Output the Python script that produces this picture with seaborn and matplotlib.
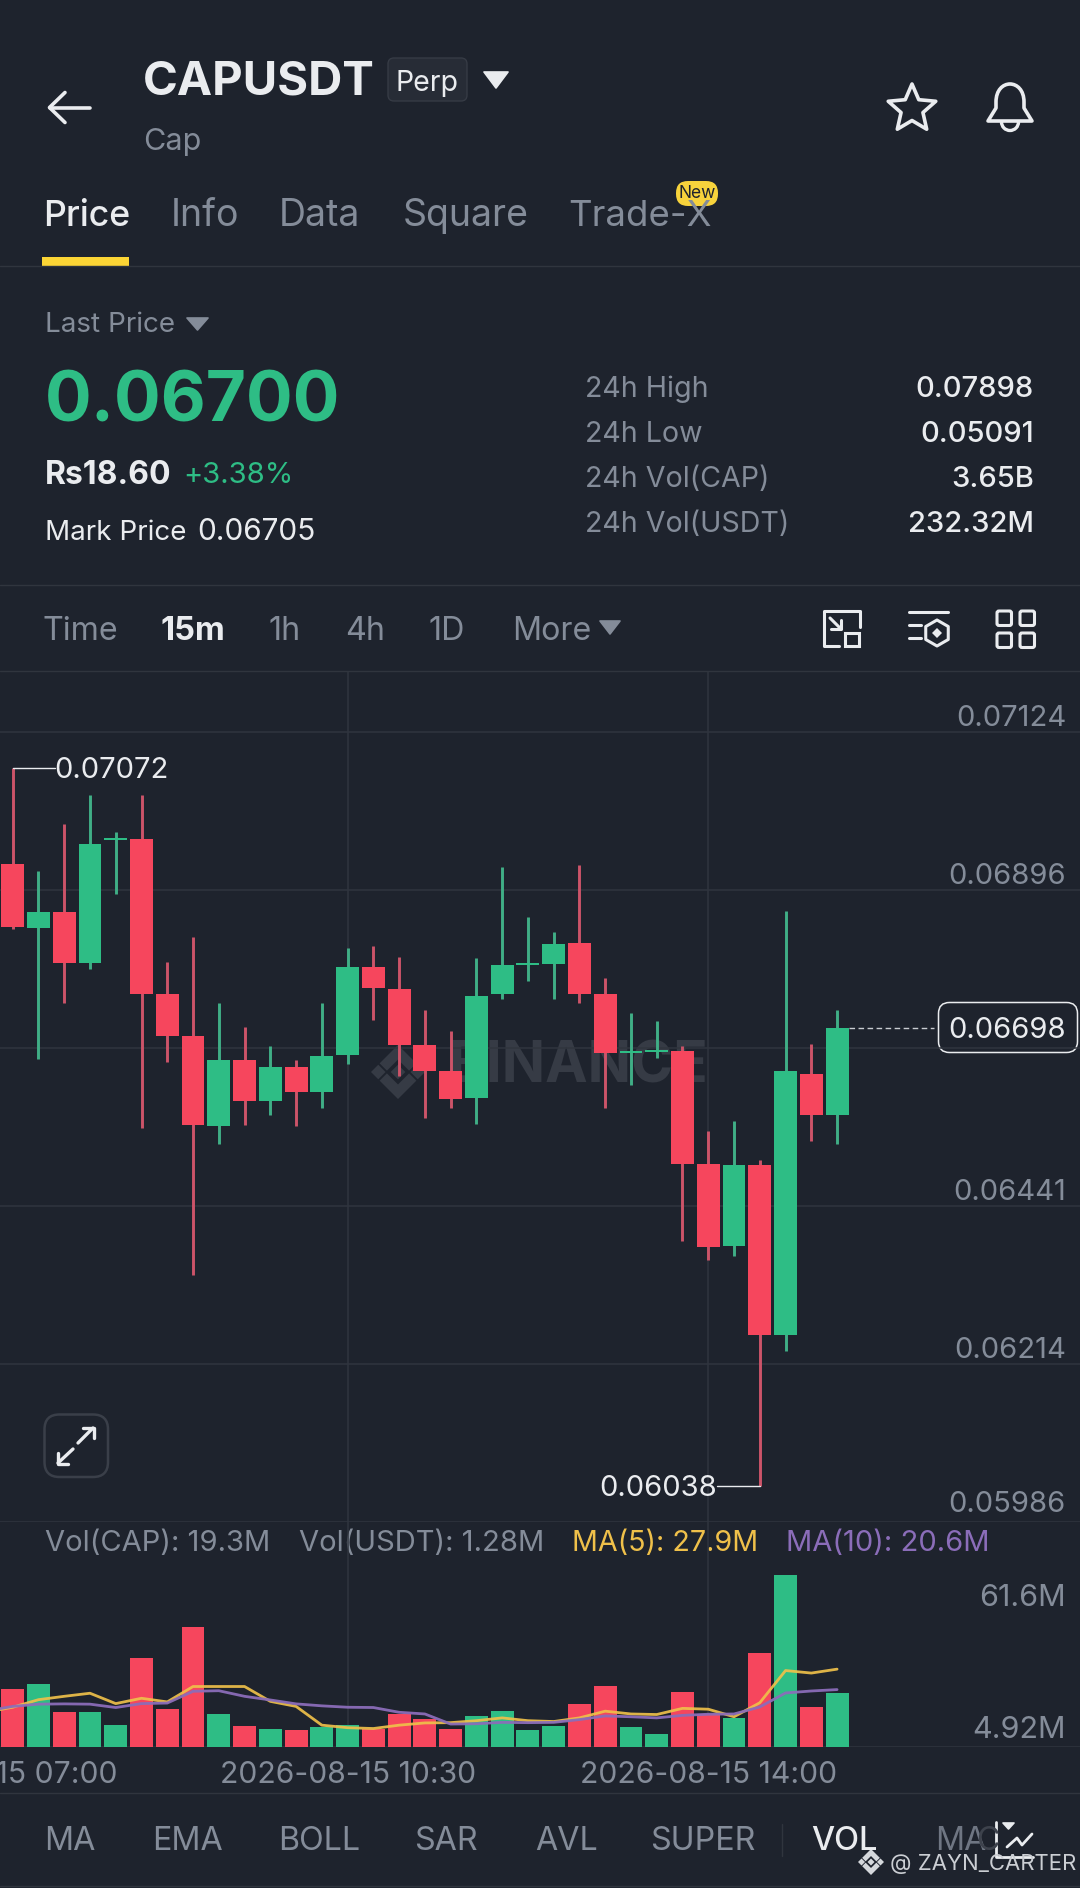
# Binance CAPUSDT perp screen: 15m candles with volume panel
import numpy as np
import pandas as pd
import matplotlib
matplotlib.use("Agg")
import matplotlib.pyplot as plt
import seaborn as sns
from matplotlib.patches import Polygon, FancyBboxPatch, Arc, PathPatch, Rectangle
from matplotlib.path import Path

# ── Data ─────────────────────────────────────────────────────────────────────
opens = [0.06934, 0.06842, 0.06864, 0.06791, 0.06968, 0.06970, 0.06746, 0.06686, 0.06557, 0.06652, 0.06592,
         0.06642, 0.06605, 0.06658, 0.06785, 0.06754, 0.06673, 0.06635, 0.06597, 0.06746, 0.06789,
         0.06790, 0.06820, 0.06746, 0.06662, 0.06663, 0.06664, 0.06502, 0.06384, 0.06500, 0.06255, 0.06632, 0.06572]
closes = [0.06843, 0.06865, 0.06791, 0.06962, 0.06971, 0.06746, 0.06686, 0.06558, 0.06651, 0.06592, 0.06642,
          0.06605, 0.06657, 0.06786, 0.06755, 0.06673, 0.06636, 0.06596, 0.06744, 0.06789, 0.06791,
          0.06819, 0.06746, 0.06662, 0.06664, 0.06666, 0.06502, 0.06382, 0.06500, 0.06255, 0.06636, 0.06572, 0.06698]
highs = [0.07072, 0.06924, 0.06992, 0.07033, 0.06980, 0.07033, 0.06792, 0.06828, 0.06733, 0.06699, 0.06671,
         0.06652, 0.06734, 0.06813, 0.06815, 0.06800, 0.06724, 0.06693, 0.06798, 0.06929, 0.06857,
         0.06836, 0.06932, 0.06769, 0.06719, 0.06707, 0.06672, 0.06549, 0.06563, 0.06507, 0.06866, 0.06675, 0.06724]
lows = [0.06840, 0.06653, 0.06734, 0.06783, 0.06890, 0.06554, 0.06649, 0.06342, 0.06531, 0.06558, 0.06572,
        0.06556, 0.06583, 0.06646, 0.06709, 0.06629, 0.06568, 0.06583, 0.06560, 0.06740, 0.06765,
        0.06739, 0.06734, 0.06582, 0.06616, 0.06654, 0.06391, 0.06364, 0.06369, 0.06038, 0.06233, 0.06535, 0.06531]

volumes = [20.7, 22.7, 12.5, 12.5, 7.9, 32.0, 13.6, 43.0, 11.8, 7.7, 6.4, 6.0, 7.3, 8.1, 6.7, 11.8, 10.1,
           6.7, 11.2, 13.0, 6.0, 7.7, 15.6, 21.8, 7.4, 4.92, 19.6, 12.0, 10.5, 33.7, 61.6, 14.5, 19.3]
# the two averages start one candle left of the screen
ma5 = [12.6, 14.3, 17.0, 18.2, 19.3, 15.6, 17.5, 16.2, 21.7, 21.7, 21.7, 16.4, 14.6, 7.9, 7.0, 6.7, 7.9, 8.7,
       8.8, 9.5, 10.5, 9.5, 9.2, 10.5, 12.9, 11.9, 11.7, 13.9, 13.6, 10.9, 15.9, 27.4, 26.5, 27.9]
ma10 = [13.0, 14.6, 15.4, 15.5, 15.4, 14.2, 15.6, 15.8, 20.0, 20.2, 18.2, 16.9, 15.5, 14.8, 14.3, 14.2, 12.5, 11.9,
        8.3, 8.4, 8.9, 8.8, 8.9, 9.9, 11.2, 10.9, 10.5, 11.4, 11.8, 11.9, 14.4, 19.4, 20.1, 20.6]

price_grid = [0.07124, 0.06896, 0.06669, 0.06441, 0.06214, 0.05986]
price_labels = ["0.07124", "0.06896", "", "0.06441", "0.06214", "0.05986"]
time_ticks = [-1, 13, 27]
time_labels = ["2026-08-15 07:00", "2026-08-15 10:30", "2026-08-15 14:00"]

tabs = ["Price", "Info", "Data", "Square", "Trade-X"]
stats_names = ["24h High", "24h Low", "24h Vol(CAP)", "24h Vol(USDT)"]
stats_values = ["0.07898", "0.05091", "3.65B", "232.32M"]
intervals = ["Time", "15m", "1h", "4h", "1D", "More"]
indicators = ["MA", "EMA", "BOLL", "SAR", "AVL", "SUPER"]

# ── Colours ──────────────────────────────────────────────────────────────────
BG = "#1E232D"
GRID = "#30353E"
GRAY = "#848C99"
WHITE = "#EAECEF"
UP = "#2EBD85"
DOWN = "#F6465D"
UP_WICK = "#40AE86"
DOWN_WICK = "#CC5469"
YELLOW = "#EFC04A"
PURPLE = "#8B6DB9"

sns.set_theme(style="dark", rc={"axes.facecolor": "none", "figure.facecolor": BG})
plt.rcParams["font.family"] = ["Inter", "DejaVu Sans"]

fig = plt.figure(figsize=(10.8, 18.88), dpi=100)

# background axes works in screen pixels, for all the app chrome
ui = fig.add_axes([0, 0, 1, 1], zorder=0)
ui.set_xlim(0, 1080)
ui.set_ylim(1888, 0)
ui.axis("off")


def txt(x, y, s, size, color=GRAY, ha="left", weight="normal", **kw):
    # matplotlib centres on the line box, nudge down to centre on the glyphs
    return ui.text(x, y + 3.5, s, fontsize=size, color=color, ha=ha, va="center", weight=weight, **kw)


def stroke(xs, ys, color=WHITE, lw=2.4, **kw):
    ui.plot(xs, ys, color=color, lw=lw, solid_capstyle="round", solid_joinstyle="round", **kw)


def tri(x0, x1, y0, y1, color):
    ui.add_patch(Polygon([(x0, y0), (x1, y0), ((x0 + x1) / 2, y1)], closed=True, fc=color, ec=color,
                         lw=1.2, joinstyle="round"))


def rbox(x0, y0, x1, y1, r, fc="none", ec=WHITE, lw=2.2, **kw):
    ui.add_patch(FancyBboxPatch((x0 + r, y0 + r), x1 - x0 - 2 * r, y1 - y0 - 2 * r,
                                boxstyle=f"round,pad={r},rounding_size={r}", fc=fc, ec=ec, lw=lw, **kw))


def binance_logo(cx, cy, s, color, **kw):
    # five piece diamond mark
    pieces = [
        [(0, -0.27), (0.27, 0), (0, 0.27), (-0.27, 0)],
        [(-1, 0), (-0.73, -0.27), (-0.46, 0), (-0.73, 0.27)],
        [(1, 0), (0.73, -0.27), (0.46, 0), (0.73, 0.27)],
        [(0, -1), (0.68, -0.32), (0.41, -0.05), (0, -0.46), (-0.41, -0.05), (-0.68, -0.32)],
        [(0, 1), (0.68, 0.32), (0.41, 0.05), (0, 0.46), (-0.41, 0.05), (-0.68, 0.32)],
    ]
    for p in pieces:
        ui.add_patch(Polygon([(cx + a * s, cy + b * s) for a, b in p], closed=True, fc=color, ec="none", **kw))


# ── Header ───────────────────────────────────────────────────────────────────
stroke([50, 90], [107.5, 107.5], lw=2.6)
stroke([65, 49.5, 65], [92.5, 107.5, 122.5], lw=2.6)
txt(143, 79, "CAPUSDT", 34, WHITE, weight="bold")
rbox(388, 58, 467, 101, 6, fc="#272C36", ec="#363B45", lw=1.0)
txt(427.5, 80, "Perp", 20.5, WHITE, ha="center")
tri(484, 508, 72, 88, WHITE)
txt(143, 139, "Cap", 22, GRAY)

# star icon
ang = np.pi / 2 + np.arange(10) * np.pi / 5
rad = np.where(np.arange(10) % 2 == 0, 25, 11.5)
ui.add_patch(Polygon(np.c_[912 + rad * np.cos(ang), 109 - rad * np.sin(ang)], closed=True, fc="none", ec=WHITE,
                     lw=2.6, joinstyle="round"))
# bell icon
bell = Path([(988, 121), (996, 108), (996, 102), (996, 90), (1003, 84), (1010, 84), (1017, 84), (1024, 90), (1024, 102),
             (1024, 108), (1032, 121), (988, 121)],
            [Path.MOVETO, Path.LINETO, Path.LINETO, Path.CURVE4, Path.CURVE4, Path.CURVE4, Path.CURVE4, Path.CURVE4,
             Path.CURVE4, Path.LINETO, Path.LINETO, Path.CLOSEPOLY])
ui.add_patch(PathPatch(bell, fc="none", ec=WHITE, lw=2.6, joinstyle="round"))
ui.add_patch(Arc((1010, 122), 17, 17, theta1=0, theta2=180, ec=WHITE, lw=2.4))

# ── Tabs ─────────────────────────────────────────────────────────────────────
for name, x in zip(tabs, [43, 171, 279, 403, 568]):
    is_active = name == "Price"
    txt(x, 213, name, 25.7 if is_active else (26.3 if name == "Trade-X" else 27), WHITE if is_active else GRAY,
        weight="medium" if is_active else "normal")
rbox(676, 181, 718, 206, 12, fc="#F7D33C", ec="none", lw=0)
txt(697, 190.5, "New", 12.5, "#1E232D", ha="center")
ui.add_patch(Rectangle((42, 257), 87, 9, fc="#FCD535", ec="none"))
ui.axhline(266, color=GRID, lw=1.0)

# ── Ticker block ─────────────────────────────────────────────────────────────
txt(45, 322, "Last Price", 20, GRAY)
tri(187, 208, 318, 330, GRAY)
txt(45, 400, "0.06700", 50, UP, weight="bold")
txt(45, 472, "Rs18.60", 23, WHITE, weight="bold")
txt(183, 472, "+3.38%", 21, UP)
txt(45, 529, "Mark Price", 20, WHITE)
txt(197, 529, "0.06705", 21.5, WHITE)
for name, val, y in zip(stats_names, stats_values, [386, 431, 476, 521]):
    txt(585, y, name, 20.6, GRAY)
    txt(1034, y, val, 21, WHITE, ha="right", weight="medium")
ui.axhline(585, color=GRID, lw=1.0)

# ── Interval row ─────────────────────────────────────────────────────────────
for name, x in zip(intervals, [42, 160, 268, 345, 428, 512]):
    txt(x, 628, name, 23.5 if name == "15m" else 23.2, WHITE if name == "15m" else GRAY,
        weight="bold" if name == "15m" else "normal")
tri(600, 620, 621, 634, GRAY)

# resize icon
stroke([860, 860, 824, 824, 839], [627, 611, 611, 646, 646], lw=2.2)
ui.add_patch(Rectangle((845, 633), 14, 13, fc="none", ec=WHITE, lw=2.2))
stroke([830, 841], [618, 629], lw=2.2)
stroke([831, 841, 841], [629, 629, 620], lw=2.2)
# settings icon
stroke([909, 948], [612, 612], lw=2.2)
stroke([909, 921], [625, 625], lw=2.2)
stroke([909, 921], [638, 638], lw=2.2)
hex_a = np.pi / 2 + np.arange(6) * np.pi / 3
ui.add_patch(Polygon(np.c_[937 + 13 * np.cos(hex_a), 633 + 13 * np.sin(hex_a)], closed=True, fc="none", ec=WHITE,
                     lw=2.2, joinstyle="round"))
ui.add_patch(Polygon([(937, 628), (942, 633), (937, 638), (932, 633)], closed=True, fc=WHITE, ec="none"))
# grid icon
for x0 in [997, 1020]:
    for y0 in [611, 633]:
        rbox(x0, y0, x0 + 14.5, y0 + 14.5, 2, lw=2.2)
ui.axhline(671, color=GRID, lw=1.0)

# ── Watermark (sits under the candles) ───────────────────────────────────────
binance_logo(398, 1072, 27, "#363B45")
txt(448, 1064, "BINANCE", 41, "#363B45", weight="bold")

# ── Price panel ──────────────────────────────────────────────────────────────
idx = np.arange(len(opens))
xlim = (-0.493, 41.43)
ax = fig.add_axes([0, 1 - 1522 / 1888, 1, 850 / 1888], zorder=1)
ax.set_xlim(*xlim)
ax.set_ylim(0.05986, 0.072104)
ax.set_yticks(price_grid)
ax.set_xticks(time_ticks[1:])
ax.set_yticklabels([])
ax.set_xticklabels([])
ax.tick_params(length=0)
ax.grid(True, color=GRID, lw=1.1)
ax.set_axisbelow(True)
sns.despine(ax=ax, left=True, bottom=True)

for i, o, c, h, l in zip(idx, opens, closes, highs, lows):
    is_up = c >= o
    ax.vlines(i, l, h, color=UP_WICK if is_up else DOWN_WICK, lw=2.1, zorder=2)
    ax.bar(i, max(abs(c - o), 0.00002), bottom=min(o, c), width=0.89, color=UP if is_up else DOWN, lw=0, zorder=3)

# axis labels float above their grid lines
for p, lab in zip(price_grid, price_labels):
    if lab:
        ax.annotate(lab, xy=(1066 / 1080, p), xycoords=ax.get_yaxis_transform(), xytext=(0, 17 if p < 0.06 else 13.5),
                    textcoords="offset pixels", ha="right", va="center", fontsize=21, color=GRAY)

# extreme price call-outs
hi_i = int(np.argmax(highs))
lo_i = int(np.argmin(lows))
ax.plot([hi_i, hi_i + 1.64], [highs[hi_i]] * 2, color=WHITE, lw=1.0, zorder=4)
ax.annotate(f"{highs[hi_i]:.5f}", xy=(hi_i + 1.64, highs[hi_i]), xytext=(-1, -2.5), textcoords="offset pixels",
            fontsize=21, color=WHITE, va="center", ha="left")
ax.plot([lo_i - 1.66, lo_i], [lows[lo_i]] * 2, color=WHITE, lw=1.0, zorder=4)
ax.annotate(f"{lows[lo_i]:.5f}", xy=(lo_i - 1.66, lows[lo_i]), xytext=(0, -2.5), textcoords="offset pixels",
            fontsize=21, color=WHITE, va="center", ha="right")

# last price tag
last = closes[-1]
ax.plot([idx[-1] + 0.45, 35.75], [last, last], color="#C9CCD1", lw=1.0, ls=(0, (4, 2.5)), zorder=2)
rbox(938.5, 1002.5, 1077.5, 1052.5, 11, fc=BG, ec=WHITE, lw=1.1, zorder=5)
ax.annotate(f"{last:.5f}", xy=(1066 / 1080, last), xycoords=ax.get_yaxis_transform(), xytext=(0, -2.5),
            textcoords="offset pixels", ha="right", va="center", fontsize=21, color=WHITE, zorder=6)

# expand button
rbox(44.5, 1414.5, 108, 1477, 15, ec="#3A3F49", lw=1.8)
stroke([78, 93], [1443, 1428], lw=2.4)
stroke([83, 93.5, 93.5], [1428, 1428, 1438], lw=2.4)
stroke([73, 58], [1449, 1463], lw=2.4)
stroke([58, 58, 68], [1453, 1463.5, 1463.5], lw=2.4)

# ── Volume panel ─────────────────────────────────────────────────────────────
txt(45, 1540, "Vol(CAP): 19.3M", 21, GRAY)
txt(299, 1540, "Vol(USDT): 1.28M", 21, GRAY)
txt(572, 1540, "MA(5): 27.9M", 20.7, YELLOW)
txt(786, 1540, "MA(10): 20.6M", 21, PURPLE)
txt(1066, 1595, "61.6M", 22, GRAY, ha="right")
txt(1066, 1727, "4.92M", 22, GRAY, ha="right")

vol_df = pd.DataFrame({"idx": idx, "vol": volumes,
                       "side": ["up" if c >= o else "down" for o, c in zip(opens, closes)]})
ma_idx = np.arange(-1, len(opens))
ma_df = pd.DataFrame({"idx": ma_idx, "ma5": ma5, "ma10": ma10})

vax = fig.add_axes([0, 1 - 1747.3 / 1888, 1, 225.3 / 1888], zorder=1)
sns.barplot(data=vol_df, x="idx", y="vol", hue="side", palette={"up": UP, "down": DOWN}, native_scale=True,
            dodge=False, width=0.89, saturation=1, legend=False, linewidth=0, ax=vax)
sns.lineplot(data=ma_df, x="idx", y="ma5", color=YELLOW, lw=2.0, alpha=0.92, ax=vax, zorder=4)
sns.lineplot(data=ma_df, x="idx", y="ma10", color=PURPLE, lw=2.0, alpha=0.95, ax=vax, zorder=5)
vax.set_xlim(*xlim)
vax.set_ylim(0, 80.43)
vax.set_xlabel("")
vax.set_ylabel("")
vax.set_xticks(time_ticks[1:])
vax.set_yticks([0])
vax.set_xticklabels([])
vax.set_yticklabels([])
vax.tick_params(length=0)
vax.grid(True, color=GRID, lw=1.1)
vax.set_axisbelow(True)
sns.despine(ax=vax, left=True, bottom=True)

for t, lab in zip(time_ticks, time_labels):
    vax.text(t, -0.125, lab, transform=vax.get_xaxis_transform(), ha="center", va="center", fontsize=21.7, color=GRAY,
             clip_on=False)
ui.axhline(1793, color=GRID, lw=1.0)

# ── Indicator row ────────────────────────────────────────────────────────────
for name, x in zip(indicators, [44, 152, 278, 414, 535, 650]):
    txt(x, 1838, name, 23.2, GRAY)
ui.plot([782, 782], [1824, 1856], color=GRID, lw=1.0)
txt(811, 1838, "VOL", 23.5, WHITE, weight="medium")
txt(935, 1838, "MA", 23.2, "#6F7683")
txt(976, 1838, "C", 23.2, "#3D424C")

# chart style icon + repost watermark on top
stroke([996, 996, 1033], [1822, 1857, 1857], lw=2.0)
stroke([1007, 1017, 1022, 1032], [1847, 1838, 1845, 1834], lw=2.0)
tri(1003, 1014, 1823, 1829, WHITE)
binance_logo(871, 1862, 13, "#D5D8DC")
txt(890, 1860, "@ ZAYN_CARTER", 15.9, "#CBCED3")
ui.axhline(1886, color=GRID, lw=1.0)

fig.savefig("out.png", dpi=100, facecolor=BG)
